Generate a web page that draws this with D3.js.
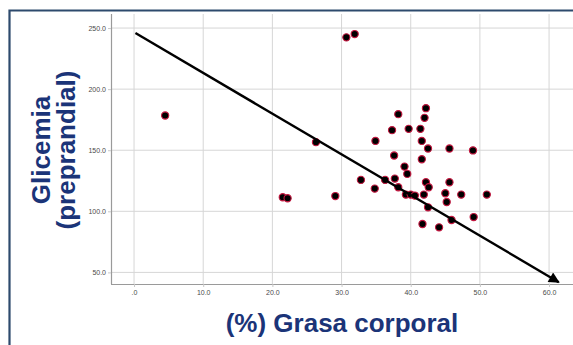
<!DOCTYPE html>
<html>
<head>
<meta charset="utf-8">
<script src="https://cdn.jsdelivr.net/npm/d3@7"></script>
<style>
  html, body { margin: 0; padding: 0; background: #fff; }
  svg { display: block; }
</style>
</head>
<body>
<svg id="chart" width="573" height="345"></svg>
<script>
// Body fat (%) vs pre-prandial blood glucose
const grasa = [30.7, 31.9, 4.5, 21.5, 22.2, 26.3, 29.1, 32.8, 34.8, 34.9,
  36.3, 37.3, 37.6, 37.7, 38.2, 38.2, 39.1, 39.5, 39.3, 39.7,
  40.0, 40.6, 41.4, 41.6, 41.6, 41.7, 41.9, 42.0, 42.2, 42.2,
  42.5, 42.6, 42.5, 44.1, 45.0, 45.2, 45.6, 45.6, 45.9, 47.3,
  49.0, 49.1, 51.0];
const glicemia = [242.4, 245.1, 178.4, 111.5, 110.7, 156.6, 112.5, 125.7, 118.6, 157.6,
  125.7, 166.4, 145.7, 126.8, 179.5, 119.7, 136.6, 130.6, 113.7, 167.5,
  113.7, 112.9, 167.5, 157.6, 142.6, 89.6, 113.7, 176.5, 184.4, 123.8,
  151.4, 119.7, 103.3, 86.9, 114.8, 107.6, 151.4, 123.8, 92.9, 113.7,
  149.8, 95.3, 113.7];

// Trend arrow endpoints (x, y) in data units
const tendenciaX = [0.2, 61.4];
const tendenciaY = [245.9, 42.0];

const xTicks = [0, 10, 20, 30, 40, 50, 60];
const yTicks = [50, 100, 150, 200, 250];

const svg = d3.select("#chart");

const plot = { left: 111, right: 573, top: 14, bottom: 284 };

const x = d3.scaleLinear().domain([-3.33, 63.46]).range([plot.left, plot.right]);
const y = d3.scaleLinear().domain([40.5, 261.5]).range([plot.bottom, plot.top]);

const fmtY = d => d.toFixed(1);
const fmtX = d => d === 0 ? ".0" : d.toFixed(1);

// frame around the slide
svg.append("path")
  .attr("d", "M9.5,345 L9.5,10.5 L573,10.5")
  .attr("fill", "none")
  .attr("stroke", "#2d4a6d")
  .attr("stroke-width", 2.2);

// grid
const grid = svg.append("g");
grid.selectAll("line.gx").data(xTicks).join("line")
  .attr("x1", d => x(d)).attr("x2", d => x(d))
  .attr("y1", plot.top).attr("y2", plot.bottom)
  .attr("stroke", "#d6d6d6").attr("stroke-width", 1);
grid.selectAll("line.gy").data(yTicks).join("line")
  .attr("x1", plot.left).attr("x2", plot.right)
  .attr("y1", d => y(d)).attr("y2", d => y(d))
  .attr("stroke", "#d6d6d6").attr("stroke-width", 1);

// axes
const xAxis = d3.axisBottom(x).tickValues(xTicks).tickFormat(fmtX).tickSize(3).tickSizeOuter(0);
const yAxis = d3.axisLeft(y).tickValues(yTicks).tickFormat(fmtY).tickSize(3).tickSizeOuter(0);

const gx = svg.append("g").attr("transform", `translate(0,${plot.bottom})`).call(xAxis);
const gy = svg.append("g").attr("transform", `translate(${plot.left},0)`).call(yAxis);

[gx, gy].forEach(g => {
  g.select(".domain").attr("stroke", "#9a9a9a").attr("stroke-width", 1.2);
  g.selectAll(".tick line").attr("stroke", "#c8c8c8");
  g.selectAll(".tick text")
    .attr("fill", "#4a4a4a")
    .style("font-family", "Liberation Sans, Arial, sans-serif")
    .style("font-size", "7px");
});
gx.select(".domain").attr("d", `M${plot.left},0.5H${plot.right}`);
gy.select(".domain").attr("d", `M0.5,${plot.bottom}V${plot.top}`);
gx.selectAll(".tick text").attr("dy", "0.71em").attr("y", 6);
gy.selectAll(".tick text").attr("x", -5);

// points
svg.append("g").selectAll("circle")
  .data(grasa.map((g, i) => [g, glicemia[i]]))
  .join("circle")
  .attr("cx", d => x(d[0]))
  .attr("cy", d => y(d[1]))
  .attr("r", 3.6)
  .attr("fill", "#000")
  .attr("stroke", "#c4163f")
  .attr("stroke-width", 1.1);

// trend arrow
svg.append("defs").append("marker")
  .attr("id", "flecha")
  .attr("viewBox", "0 0 10 10")
  .attr("refX", 9).attr("refY", 5)
  .attr("markerWidth", 5.5).attr("markerHeight", 4.5)
  .attr("markerUnits", "strokeWidth")
  .attr("orient", "auto")
  .append("path")
  .attr("d", "M0,0 L10,5 L0,10 Z")
  .attr("fill", "#000");

svg.append("line")
  .attr("x1", x(tendenciaX[0])).attr("y1", y(tendenciaY[0]))
  .attr("x2", x(tendenciaX[1])).attr("y2", y(tendenciaY[1]))
  .attr("stroke", "#000")
  .attr("stroke-width", 2.4)
  .attr("marker-end", "url(#flecha)");

// axis titles
const titleColor = "#1b3478";
svg.append("text")
  .attr("x", 342).attr("y", 332)
  .attr("text-anchor", "middle")
  .attr("fill", titleColor)
  .style("font-family", "Liberation Sans, Arial, sans-serif")
  .style("font-weight", "bold")
  .style("font-size", "26px")
  .text("(%) Grasa corporal");

const yTitle = svg.append("g").attr("transform", "translate(0,150) rotate(-90)");
yTitle.append("text")
  .attr("x", 0).attr("y", 50)
  .attr("text-anchor", "middle")
  .attr("fill", titleColor)
  .style("font-family", "Liberation Sans, Arial, sans-serif")
  .style("font-weight", "bold")
  .style("font-size", "26px")
  .text("Glicemia");
yTitle.append("text")
  .attr("x", 0).attr("y", 74.5)
  .attr("text-anchor", "middle")
  .attr("fill", titleColor)
  .style("font-family", "Liberation Sans, Arial, sans-serif")
  .style("font-weight", "bold")
  .style("font-size", "26px")
  .text("(preprandial)");
</script>
</body>
</html>
